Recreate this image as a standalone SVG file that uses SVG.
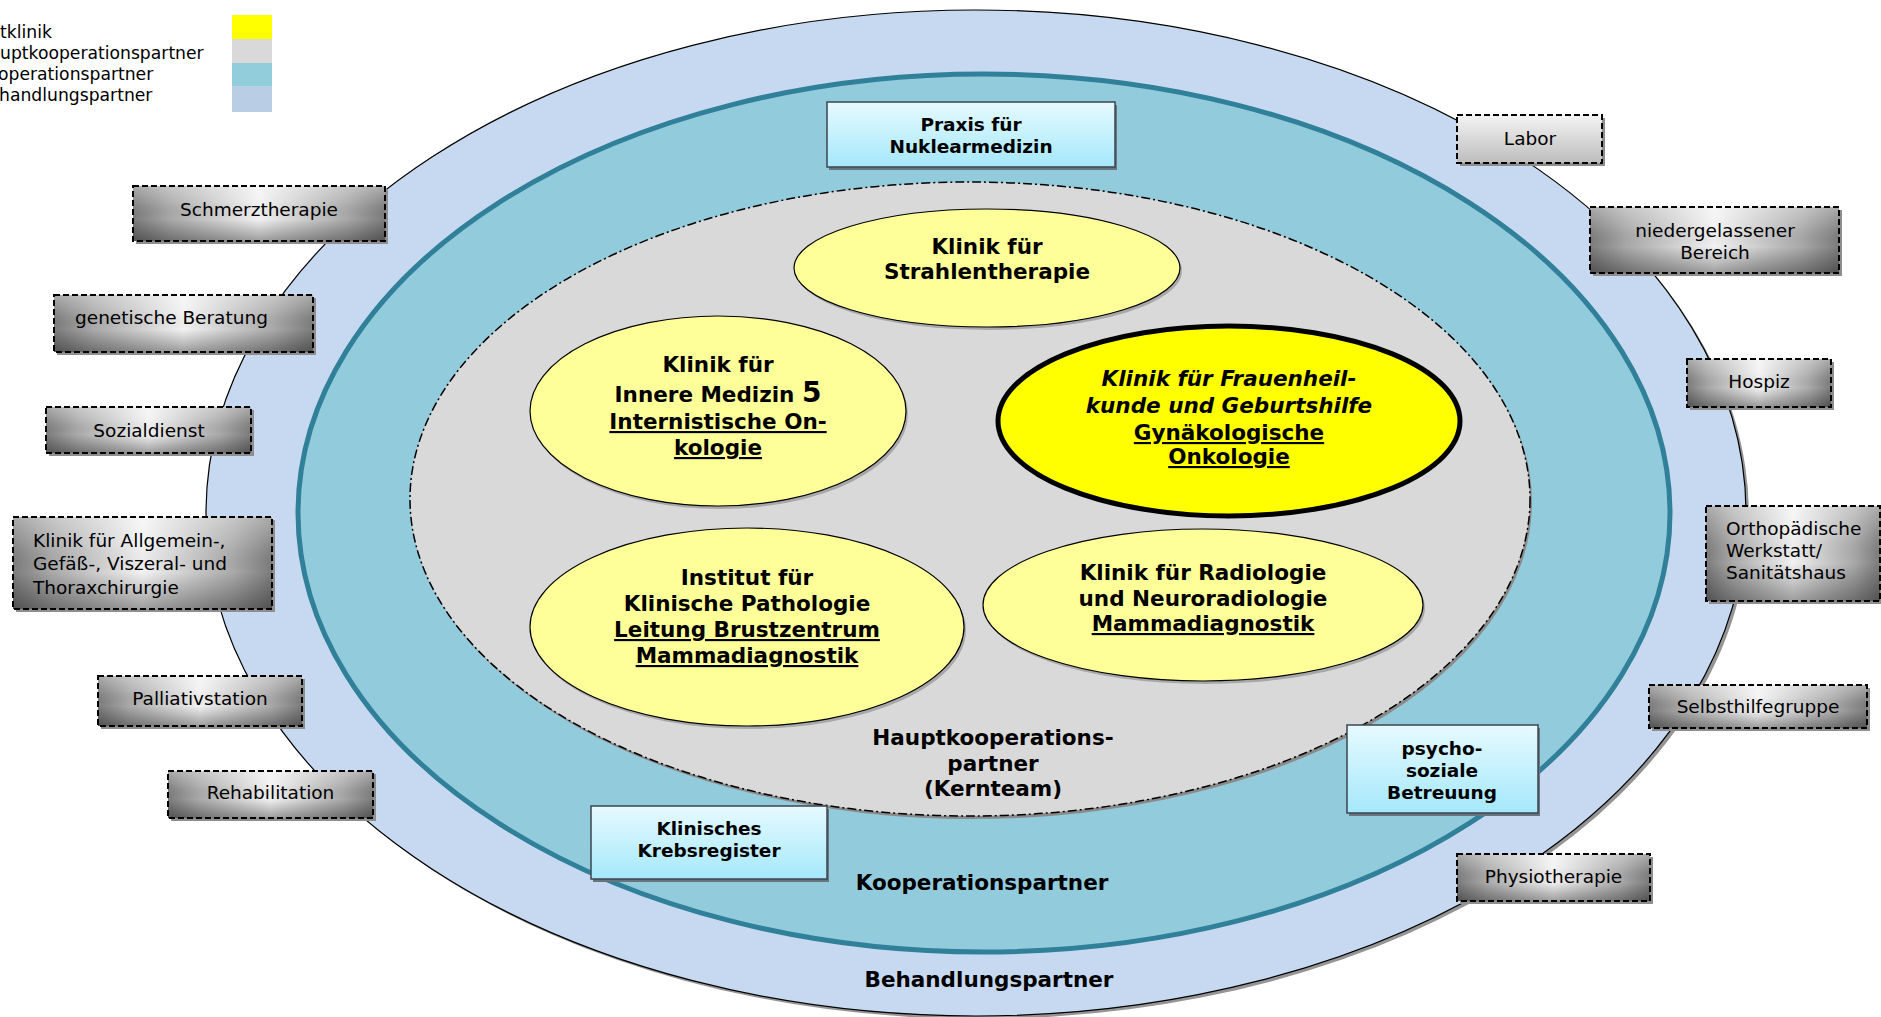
<svg xmlns="http://www.w3.org/2000/svg" width="1881" height="1017" viewBox="0 0 1881 1017">
<defs>
<linearGradient id="gH" x1="0" y1="0" x2="1" y2="0">
<stop offset="0" stop-color="#7c7c7c"/><stop offset="0.15" stop-color="#a9a9a9"/><stop offset="0.5" stop-color="#f2f2f2"/><stop offset="0.85" stop-color="#a9a9a9"/><stop offset="1" stop-color="#7c7c7c"/>
</linearGradient>
<linearGradient id="gV" x1="0" y1="0" x2="0" y2="1">
<stop offset="0" stop-color="#fff" stop-opacity="0.35"/><stop offset="0.3" stop-color="#fff" stop-opacity="0.1"/><stop offset="0.6" stop-color="#000" stop-opacity="0"/><stop offset="1" stop-color="#000" stop-opacity="0.35"/>
</linearGradient>
<linearGradient id="gL" x1="0" y1="0" x2="0" y2="1">
<stop offset="0" stop-color="#f4f4f4"/><stop offset="1" stop-color="#bdbdbd"/>
</linearGradient>
<linearGradient id="gB" x1="0" y1="0" x2="0" y2="1">
<stop offset="0" stop-color="#e6faff"/><stop offset="1" stop-color="#a5e8fb"/>
</linearGradient>
<style>
text{font-family:"DejaVu Sans",Verdana,sans-serif;fill:#000}
.b{font-weight:bold;text-anchor:middle}
.e{font-size:21.5px}
.l{font-size:21.5px}
.bb{font-size:18.5px}
.g{font-size:18.5px}
.c{text-anchor:middle}
.u{text-decoration:underline}
.sh{fill:#8e8e8e}
.gb{fill:url(#gH);stroke:none}
.go{fill:url(#gV);stroke:#000;stroke-width:2;stroke-dasharray:6 3}
.bx{fill:url(#gB);stroke:#3c4650;stroke-width:1.5}
.bsh{fill:#68747e}
.ye{fill:#ffff99;stroke:#000;stroke-width:1.2}
.yes{fill:#a8a8a8}
</style>
</defs>
<rect width="1881" height="1017" fill="#fff"/>

<g id="legend">
<rect x="232" y="15" width="40" height="24" fill="#ffff00"/>
<rect x="232" y="39" width="40" height="24" fill="#d9d9d9"/>
<rect x="232" y="63" width="40" height="23" fill="#92cddc"/>
<rect x="232" y="86" width="40" height="26" fill="#b9cde5"/>
<text x="0" y="38" font-size="17.2">tklinik</text>
<text x="0" y="59" font-size="17.2">uptkooperationspartner</text>
<text x="-2" y="80" font-size="17.2">operationspartner</text>
<text x="-1" y="101" font-size="17.2">handlungspartner</text>
</g>

<g id="behandlungspartner">
<ellipse cx="979" cy="516" rx="770" ry="503" fill="#959595"/>
<ellipse cx="976" cy="513" rx="770" ry="503" fill="#c6d9f1" stroke="#000" stroke-width="1.2"/>
<text class="b l" x="989" y="987">Behandlungspartner</text>
</g>

<g id="kooperationspartner">
<ellipse cx="984" cy="513" rx="686" ry="439" fill="#92cbdc" stroke="#31809a" stroke-width="5"/>
<text class="b l" x="982" y="890">Kooperationspartner</text>
</g>

<g id="hauptkooperationspartner">
<ellipse cx="972" cy="502" rx="560" ry="317" fill="#8a8a8a"/>
<ellipse cx="970" cy="499" rx="560" ry="317" fill="#d9d9d9" stroke="#000" stroke-width="1.5" stroke-dasharray="9 3 2 3"/>
<text class="b l" x="993" y="745">Hauptkooperations-</text>
<text class="b l" x="993" y="771">partner</text>
<text class="b l" x="993" y="796">(Kernteam)</text>
</g>

<g id="strahlentherapie">
<ellipse class="yes" cx="989" cy="271" rx="193" ry="59"/>
<ellipse class="ye" cx="987" cy="268" rx="193" ry="59"/>
<text class="b e" x="987" y="254">Klinik für</text>
<text class="b e" x="987" y="279">Strahlentherapie</text>
</g>

<g id="innere-medizin">
<ellipse class="yes" cx="720" cy="414" rx="188" ry="95"/>
<ellipse class="ye" cx="718" cy="411" rx="188" ry="95"/>
<text class="b e" x="718" y="372">Klinik für</text>
<text class="b e" x="718" y="402">Innere Medizin <tspan font-size="28">5</tspan></text>
<text class="b e u" x="718" y="429">Internistische On-</text>
<text class="b e u" x="718" y="455">kologie</text>
</g>

<g id="frauenheilkunde">
<ellipse cx="1229" cy="421" rx="231" ry="95" fill="#ffff00" stroke="#000" stroke-width="5"/>
<text class="b e" x="1229" y="386" font-style="italic">Klinik für Frauenheil-</text>
<text class="b e" x="1229" y="413" font-style="italic">kunde und Geburtshilfe</text>
<text class="b e u" x="1229" y="440">Gynäkologische</text>
<text class="b e u" x="1229" y="464">Onkologie</text>
</g>

<g id="pathologie">
<ellipse class="yes" cx="749" cy="630" rx="217" ry="99"/>
<ellipse class="ye" cx="747" cy="627" rx="217" ry="99"/>
<text class="b e" x="747" y="585">Institut für</text>
<text class="b e" x="747" y="611">Klinische Pathologie</text>
<text class="b e u" x="747" y="637">Leitung Brustzentrum</text>
<text class="b e u" x="747" y="663">Mammadiagnostik</text>
</g>

<g id="radiologie">
<ellipse class="yes" cx="1205" cy="608" rx="220" ry="76"/>
<ellipse class="ye" cx="1203" cy="605" rx="220" ry="76"/>
<text class="b e" x="1203" y="580">Klinik für Radiologie</text>
<text class="b e" x="1203" y="606">und Neuroradiologie</text>
<text class="b e u" x="1203" y="631">Mammadiagnostik</text>
</g>

<g id="nuklearmedizin">
<rect class="bsh" x="829" y="105" width="288" height="65"/>
<rect class="bx" x="827" y="102" width="288" height="65"/>
<text class="b bb" x="971" y="131">Praxis für</text>
<text class="b bb" x="971" y="153">Nuklearmedizin</text>
</g>

<g id="krebsregister">
<rect class="bsh" x="593" y="809" width="236" height="73"/>
<rect class="bx" x="591" y="806" width="236" height="73"/>
<text class="b bb" x="709" y="835">Klinisches</text>
<text class="b bb" x="709" y="857">Krebsregister</text>
</g>

<g id="psychosozial">
<rect class="bsh" x="1349" y="728" width="191" height="88"/>
<rect class="bx" x="1347" y="725" width="191" height="88"/>
<text class="b bb" x="1442" y="755">psycho-</text>
<text class="b bb" x="1442" y="777">soziale</text>
<text class="b bb" x="1442" y="799">Betreuung</text>
</g>

<g id="schmerztherapie">
<rect class="sh" x="136" y="189" width="252" height="55"/>
<rect class="gb" x="133" y="186" width="252" height="55"/>
<rect class="go" x="133" y="186" width="252" height="55"/>
<text class="g c" x="259" y="216">Schmerztherapie</text>
</g>

<g id="genetische-beratung">
<rect class="sh" x="57" y="298" width="259" height="57"/>
<rect class="gb" x="54" y="295" width="259" height="57"/>
<rect class="go" x="54" y="295" width="259" height="57"/>
<text class="g" x="75" y="324">genetische Beratung</text>
</g>

<g id="sozialdienst">
<rect class="sh" x="49" y="410" width="205" height="46"/>
<rect class="gb" x="46" y="407" width="205" height="46"/>
<rect class="go" x="46" y="407" width="205" height="46"/>
<text class="g c" x="149" y="437">Sozialdienst</text>
</g>

<g id="chirurgie">
<rect class="sh" x="16" y="520" width="259" height="92"/>
<rect class="gb" x="13" y="517" width="259" height="92"/>
<rect class="go" x="13" y="517" width="259" height="92"/>
<text class="g" x="33" y="547">Klinik für Allgemein-,</text>
<text class="g" x="33" y="570">Gefäß-, Viszeral- und</text>
<text class="g" x="33" y="594">Thoraxchirurgie</text>
</g>

<g id="palliativstation">
<rect class="sh" x="101" y="679" width="204" height="50"/>
<rect class="gb" x="98" y="676" width="204" height="50"/>
<rect class="go" x="98" y="676" width="204" height="50"/>
<text class="g c" x="200" y="705">Palliativstation</text>
</g>

<g id="rehabilitation">
<rect class="sh" x="171" y="774" width="205" height="47"/>
<rect class="gb" x="168" y="771" width="205" height="47"/>
<rect class="go" x="168" y="771" width="205" height="47"/>
<text class="g c" x="270.5" y="799">Rehabilitation</text>
</g>

<g id="labor">
<rect class="sh" x="1460" y="118" width="145" height="48"/>
<rect x="1457" y="115" width="145" height="48" fill="url(#gL)" stroke="#000" stroke-width="2" stroke-dasharray="6 3"/>
<text class="g c" x="1530" y="145">Labor</text>
</g>

<g id="niedergelassener-bereich">
<rect class="sh" x="1593" y="210" width="249" height="66"/>
<rect class="gb" x="1590" y="207" width="249" height="66"/>
<rect class="go" x="1590" y="207" width="249" height="66"/>
<text class="g c" x="1715" y="237">niedergelassener</text>
<text class="g c" x="1715" y="259">Bereich</text>
</g>

<g id="hospiz">
<rect class="sh" x="1690" y="362" width="144" height="48"/>
<rect class="gb" x="1687" y="359" width="144" height="48"/>
<rect class="go" x="1687" y="359" width="144" height="48"/>
<text class="g c" x="1759" y="388">Hospiz</text>
</g>

<g id="orthopaedie">
<rect class="sh" x="1709" y="509" width="174" height="95"/>
<rect class="gb" x="1706" y="506" width="174" height="95"/>
<rect class="go" x="1706" y="506" width="174" height="95"/>
<text class="g" x="1726" y="535">Orthopädische</text>
<text class="g" x="1726" y="557">Werkstatt/</text>
<text class="g" x="1726" y="579">Sanitätshaus</text>
</g>

<g id="selbsthilfegruppe">
<rect class="sh" x="1652" y="688" width="218" height="43"/>
<rect class="gb" x="1649" y="685" width="218" height="43"/>
<rect class="go" x="1649" y="685" width="218" height="43"/>
<text class="g c" x="1758" y="713">Selbsthilfegruppe</text>
</g>

<g id="physiotherapie">
<rect class="sh" x="1460" y="857" width="193" height="47"/>
<rect class="gb" x="1457" y="854" width="193" height="47"/>
<rect class="go" x="1457" y="854" width="193" height="47"/>
<text class="g c" x="1553.5" y="883">Physiotherapie</text>
</g>

<g id="connectors"/>
</svg>
